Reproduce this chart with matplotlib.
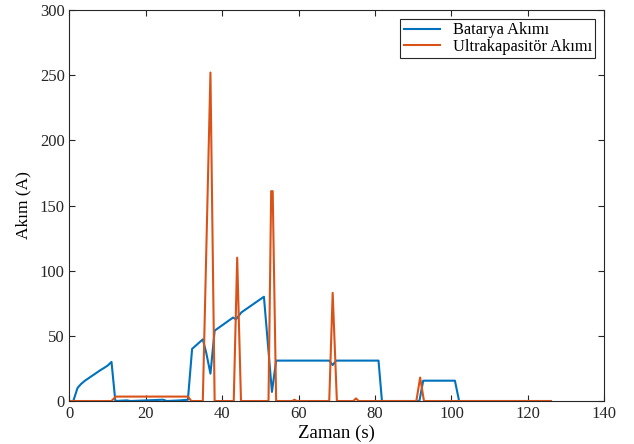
import matplotlib.pyplot as plt

plt.rcParams['font.family'] = 'Liberation Serif'

# battery current
t_bat = [0, 1.0, 2.1, 3, 4, 5, 6, 7, 8, 9, 10, 11.0, 12.0, 15, 16, 24.5, 25.5, 29, 31.0,
         32.1, 34.9, 35.8, 36.9, 38.0, 42.8, 43.6, 45.0, 50.9, 53.0, 54.1, 68.0, 68.9,
         69.8, 80.9, 81.8, 91.6, 92.6, 100.9, 102.0, 126]
i_bat = [0, 0, 10, 13, 15.5, 17.5, 19.5, 21.5, 23.5, 25.3, 27.2, 30, 0, 0.5, 0, 1, 0, 0.5, 1,
         40, 47.3, 37, 21, 54, 64, 62.7, 68, 80, 7, 31, 31, 27.6,
         31, 31, 0, 0, 15.6, 15.6, 0, 0]

# ultracapacitor current
t_uc = [0, 11.0, 12.1, 31.0, 31.9, 34.9, 36.9, 38.0, 43.0, 43.9, 44.9, 52.1, 52.8, 53.2,
        54.1, 58.3, 58.9, 59.5, 68.0, 68.9, 70.0, 74.3, 75.0, 75.7, 90.8, 91.8, 92.8, 126]
i_uc = [0, 0, 3.4, 3.4, 0, 0, 252, 0, 0, 110, 0, 0, 161, 161,
        0, 0, 1, 0, 0, 83, 0, 0, 2, 0, 0, 18, 0, 0]

fig = plt.figure(figsize=(6.34, 4.44), dpi=100)
ax = fig.add_axes([0.1096, 0.0968, 0.8435, 0.8807])

ax.plot(t_bat, i_bat, color='#0072BD', lw=1.5, label='Batarya Akımı')
ax.plot(t_uc, i_uc, color='#D95319', lw=1.5, label='Ultrakapasitör Akımı')

ax.set_xlim(0, 140)
ax.set_ylim(0, 300)
ax.set_xticks(range(0, 141, 20))
ax.set_yticks(range(0, 301, 50))
ax.tick_params(direction='in', top=True, right=True, labelsize=12, length=4,
               color='#262626', labelcolor='#262626')
for s in ax.spines.values():
    s.set_color('#262626')
    s.set_linewidth(0.8)

ax.set_xlabel('Zaman (s)', fontsize=13.5, labelpad=2)
ax.set_ylabel('Akım (A)', fontsize=12.5, labelpad=6)

leg = ax.legend(loc='upper right', fontsize=11.8, fancybox=False, edgecolor='#262626',
                framealpha=1, handlelength=2.2, borderaxespad=0.55, labelspacing=0.05,
                borderpad=0.2, handletextpad=0.8)
leg.get_frame().set_linewidth(0.8)

fig.savefig('out.png', dpi=100)
